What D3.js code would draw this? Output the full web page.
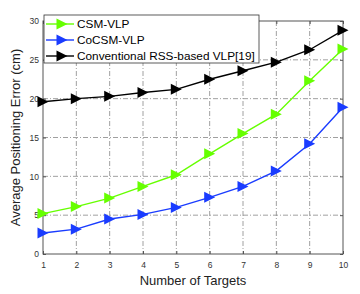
<!DOCTYPE html>
<html><head><meta charset="utf-8">
<script src="https://cdn.jsdelivr.net/npm/d3@7"></script>
<style>body{margin:0;background:#fff}svg{display:block}</style>
</head><body>
<script>
const targets = [1,2,3,4,5,6,7,8,9,10];
const csmVlp = [5.2,6.1,7.2,8.7,10.2,12.9,15.5,18.0,22.3,26.4];
const cocsmVlp = [2.7,3.2,4.5,5.1,6.0,7.3,8.7,10.7,14.2,18.9];
const conventional = [19.6,20.0,20.3,20.8,21.2,22.5,23.6,24.7,26.3,28.8];
const yTicks = [0,5,10,15,20,25,30];
const seriesNames = ["CSM-VLP","CoCSM-VLP","Conventional RSS-based VLP[19]"];
const seriesColors = ["#66ff00","#1a3cff","#000000"];

const W=360,H=294;
const L=43,R=343,T=21,B=254;
const svg=d3.select("body").append("svg").attr("width",W).attr("height",H);
const x=d3.scaleLinear().domain([1,10]).range([L,R]);
const y=d3.scaleLinear().domain([0,30]).range([B,T]);

// grid
const g=svg.append("g");
g.selectAll(".vg").data(targets.slice(1,-1)).enter().append("line")
 .attr("x1",d=>x(d)).attr("x2",d=>x(d)).attr("y1",T).attr("y2",B)
 .attr("stroke","#888").attr("stroke-width",0.8).attr("stroke-dasharray","5,2,1,2");
g.selectAll(".hg").data(yTicks.slice(1,-1)).enter().append("line")
 .attr("x1",L).attr("x2",R).attr("y1",d=>y(d)).attr("y2",d=>y(d))
 .attr("stroke","#888").attr("stroke-width",0.8).attr("stroke-dasharray","5,2,1,2");

// axes
const xa=svg.append("g").attr("transform",`translate(0,${B})`)
 .call(d3.axisBottom(x).tickValues(targets).tickSize(-3).tickPadding(8));
const ya=svg.append("g").attr("transform",`translate(${L},0)`)
 .call(d3.axisLeft(y).tickValues(yTicks).tickSize(-3).tickPadding(4));
[xa,ya].forEach(a=>{
 a.select(".domain").remove();
 a.selectAll("line").attr("stroke","#555");
 a.selectAll("text").attr("font-family","Liberation Sans, Arial, sans-serif").attr("font-size",8.5).attr("fill","#333");
});
// top/right ticks
svg.append("g").attr("transform",`translate(0,${T})`).call(d3.axisTop(x).tickValues(targets).tickSize(-3).tickFormat(""))
 .call(a=>{a.select(".domain").remove();a.selectAll("line").attr("stroke","#555");});
svg.append("g").attr("transform",`translate(${R},0)`).call(d3.axisRight(y).tickValues(yTicks).tickSize(-3).tickFormat(""))
 .call(a=>{a.select(".domain").remove();a.selectAll("line").attr("stroke","#555");});
svg.append("rect").attr("x",L).attr("y",T).attr("width",R-L).attr("height",B-T)
 .attr("fill","none").attr("stroke","#555").attr("stroke-width",1);

// series
const tri=d3.symbol().type({draw(ctx,size){const s=5.5;ctx.moveTo(s,0);ctx.lineTo(-s,-s);ctx.lineTo(-s,s);ctx.closePath();}});
const line=d3.line().x((d,i)=>x(targets[i])).y(d=>y(d));
[csmVlp,cocsmVlp,conventional].forEach((vals,k)=>{
 svg.append("path").attr("d",line(vals)).attr("fill","none").attr("stroke",seriesColors[k]).attr("stroke-width",1.4);
 svg.selectAll(".m"+k).data(vals).enter().append("path")
  .attr("d",tri()).attr("transform",(d,i)=>`translate(${x(targets[i])},${y(d)})`)
  .attr("fill",seriesColors[k]);
});

// legend
const lg=svg.append("g");
lg.append("rect").attr("x",44).attr("y",15).attr("width",215).attr("height",48)
 .attr("fill","#fff").attr("stroke","#333").attr("stroke-width",0.8);
seriesNames.forEach((n,i)=>{
 const yy=24+i*16;
 lg.append("line").attr("x1",46).attr("x2",74).attr("y1",yy).attr("y2",yy).attr("stroke",seriesColors[i]).attr("stroke-width",1.4);
 lg.append("path").attr("d",tri()).attr("transform",`translate(62,${yy})`).attr("fill",seriesColors[i]);
 lg.append("text").attr("x",77).attr("y",yy+4).text(n)
  .attr("font-family","Liberation Sans, Arial, sans-serif").attr("font-size",11.8).attr("fill","#000");
});

// labels
svg.append("text").attr("x",193).attr("y",285).attr("text-anchor","middle")
 .attr("font-family","Liberation Sans, Arial, sans-serif").attr("font-size",13).attr("fill","#222").text("Number of Targets");
svg.append("text").attr("transform",`translate(20,${(T+B)/2}) rotate(-90)`).attr("text-anchor","middle")
 .attr("font-family","Liberation Sans, Arial, sans-serif").attr("font-size",13).attr("fill","#222").text("Average Positioning Error (cm)");
</script>
</body></html>
